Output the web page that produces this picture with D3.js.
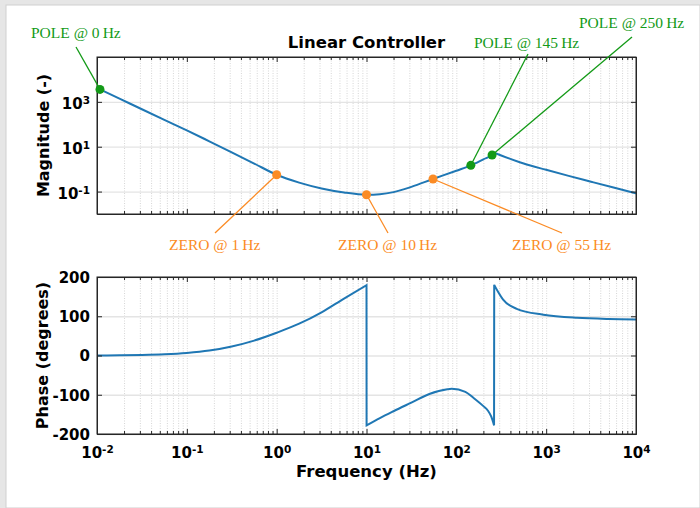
<!DOCTYPE html>
<html>
<head>
<meta charset="utf-8">
<script src="https://cdn.jsdelivr.net/npm/d3@7"></script>
<style>
  body { margin: 0; background: #e6e6e6; }
</style>
</head>
<body>
<svg id="chart" width="700" height="508"></svg>
<script>
// values
var magFreq = [0.01, 0.0178, 0.0316, 0.0562, 0.1, 0.178, 0.316, 0.562, 1, 1.78, 3.16, 5.62, 10, 14.1, 20, 31.6, 55, 100, 145, 200, 250, 264, 316, 562, 1000, 1780, 3160, 5620, 10000];
var magVal  = [4170, 1400, 468, 158, 53.7, 17.4, 5.6, 1.78, 0.56, 0.251, 0.138, 0.0912, 0.0724, 0.0765, 0.0945, 0.162, 0.363, 0.851, 1.48, 2.75, 4.27, 5.37, 4.07, 1.78, 0.933, 0.50, 0.275, 0.151, 0.0832];

var phaseFreq = [0.01, 0.0178, 0.0316, 0.0562, 0.1, 0.178, 0.316, 0.562, 1, 1.78, 3.16, 5.62, 10,
                 10.02, 14.1, 20, 31.6, 50, 79.4, 89, 126, 158, 200, 224, 245, 263,
                 264, 290, 330, 470, 930, 2200, 5000, 10000];
var phaseDeg  = [0, 0.6, 1.5, 3.2, 6.5, 12.5, 23, 38, 58, 81, 110, 145, 179,
                 -178, -159.5, -142, -120, -98, -86, -85, -92.5, -109.5, -129, -140, -156, -178,
                 180, 163, 143, 119, 104, 96, 93, 92];

var markFreq = [0.0108, 1, 10, 55, 145, 250];
var markMag  = [3600, 0.56, 0.0724, 0.363, 1.48, 4.27];
var markKind = ["pole", "zero", "zero", "zero", "pole", "pole"];
var markText = ["POLE @ 0\u2009Hz", "ZERO @ 1\u2009Hz", "ZERO @ 10\u2009Hz", "ZERO @ 55\u2009Hz", "POLE @ 145\u2009Hz", "POLE @ 250\u2009Hz"];

var freqTicks  = [1e-2, 1e-1, 1e0, 1e1, 1e2, 1e3, 1e4];
var magTicks   = [1e-1, 1e1, 1e3];
var phaseTicks = [-200, -100, 0, 100, 200];

// layout
var svg = d3.select("#chart");
var left = 97, right = 636;
var top1 = 57, bot1 = 214;
var top2 = 277, bot2 = 434;
var blue = "#1f77b4", green = "#139a17", orange = "#fb8b24";
var axisColor = "#262626";
var sans = "DejaVu Sans", serif = "Liberation Serif";

// label anchors: [textX, textY, lineStartX, lineStartY]
var labelPos = [
  [31, 38, 76, 47],
  [169, 250, 215, 233],
  [338, 250, 388, 233],
  [512, 250, 562, 233],
  [474, 48, 528, 54],
  [579, 28, 632, 37]
];

svg.append("rect").attr("x", 6).attr("y", 5).attr("width", 694).attr("height", 503)
   .attr("fill", "#fff").attr("stroke", "#cfcfcf");

var x = d3.scaleLog().domain([1e-2, 1e4]).range([left, right]);
var yMag = d3.scaleLog().domain([1e-2, 1e5]).range([bot1, top1]);
var yPh = d3.scaleLinear().domain([-200, 200]).range([bot2, top2]);

var minors = [];
for (var d = -2; d < 4; d++) {
  for (var k = 2; k < 10; k++) minors.push(k * Math.pow(10, d));
}

function grid(g, y0, y1, yScale, yTicks) {
  // vertical dotted grid
  g.append("g").attr("transform", "translate(0," + y1 + ")")
   .call(d3.axisBottom(x).tickValues(minors.concat(freqTicks)).tickSize(-(y1 - y0)).tickFormat(""))
   .call(function(s) {
     s.select(".domain").remove();
     s.selectAll("line").attr("stroke", "#cbcbcb").attr("stroke-width", 0.8).attr("stroke-dasharray", "1,1.5");
   });
  // horizontal grid
  g.append("g").attr("transform", "translate(" + left + ",0)")
   .call(d3.axisLeft(yScale).tickValues(yTicks).tickSize(-(right - left)).tickFormat(""))
   .call(function(s) {
     s.select(".domain").remove();
     s.selectAll("line").attr("stroke", "#e4e4e4").attr("stroke-width", 1.3);
   });
}

function frame(g, y0, y1, yScale, yTicks, yFmt) {
  var xb = g.append("g").attr("transform", "translate(0," + y1 + ")")
   .call(d3.axisBottom(x).tickValues(freqTicks).tickSize(-5).tickSizeOuter(0).tickFormat(""));
  g.append("g").attr("transform", "translate(0," + y1 + ")")
   .call(d3.axisBottom(x).tickValues(minors).tickSize(-3).tickSizeOuter(0).tickFormat(""));
  g.append("g").attr("transform", "translate(0," + y0 + ")")
   .call(d3.axisTop(x).tickValues(freqTicks).tickSize(-5).tickSizeOuter(0).tickFormat(""));
  g.append("g").attr("transform", "translate(0," + y0 + ")")
   .call(d3.axisTop(x).tickValues(minors).tickSize(-3).tickSizeOuter(0).tickFormat(""));
  var yl = g.append("g").attr("transform", "translate(" + left + ",0)")
   .call(d3.axisLeft(yScale).tickValues(yTicks).tickSize(-5).tickSizeOuter(0).tickPadding(7).tickFormat(yFmt));
  g.append("g").attr("transform", "translate(" + right + ",0)")
   .call(d3.axisRight(yScale).tickValues(yTicks).tickSize(-5).tickSizeOuter(0).tickFormat(""));

  g.selectAll(".domain").attr("stroke", axisColor);
  g.selectAll(".tick line").attr("stroke", axisColor);
  yl.selectAll("text").attr("font-size", 15).attr("font-weight", "bold").attr("fill", "#000")
    .attr("font-family", sans);
  g.append("rect").attr("x", left).attr("y", y0).attr("width", right - left).attr("height", y1 - y0)
   .attr("fill", "none").attr("stroke", axisColor).attr("stroke-width", 1);
  return { xb: xb, yl: yl };
}

function powLabel(sel) {
  sel.each(function(v) {
    var t = d3.select(this);
    var e = Math.round(Math.log10(v));
    t.text(null);
    t.append("tspan").text("10");
    t.append("tspan").attr("dy", "-0.5em").attr("font-size", 10.5).text(e);
  });
}

var g1 = svg.append("g");
var g2 = svg.append("g");
grid(g1, top1, bot1, yMag, magTicks);
grid(g2, top2, bot2, yPh, phaseTicks);

// magnitude curve, split at the peak so the corner stays sharp
var magPts = magFreq.map(function(f, i) { return [f, magVal[i]]; });
var peak = d3.maxIndex(magVal.map(function(v, i) { return magFreq[i] > 10 ? v : 0; }));
var magLine = d3.line().x(function(p) { return x(p[0]); }).y(function(p) { return yMag(p[1]); })
  .curve(d3.curveMonotoneX);
var magPath = magLine(magPts.slice(0, peak + 1)) + magLine(magPts.slice(peak)).replace(/^M/, "L");
g1.append("path").attr("d", magPath).attr("fill", "none").attr("stroke", blue).attr("stroke-width", 2);

// phase curve, split at the wraps
var phLine = d3.line().x(function(p) { return x(p[0]); }).y(function(p) { return yPh(p[1]); })
  .curve(d3.curveMonotoneX);
var segs = [[]];
phaseFreq.forEach(function(f, i) {
  if (i > 0 && Math.abs(phaseDeg[i] - phaseDeg[i - 1]) > 180) segs.push([]);
  segs[segs.length - 1].push([f, phaseDeg[i]]);
});
var phPath = segs.map(function(s, i) {
  var p = phLine(s);
  return i === 0 ? p : p.replace(/^M/, "L");
}).join("");
g2.append("path").attr("d", phPath).attr("fill", "none").attr("stroke", blue).attr("stroke-width", 2);

var f1 = frame(g1.append("g"), top1, bot1, yMag, magTicks, "");
f1.yl.selectAll(".tick text").attr("dy", "0.45em").call(powLabel);

var f2 = frame(g2.append("g"), top2, bot2, yPh, phaseTicks, function(v) { return String(v); });
f2.yl.selectAll(".tick text").attr("dy", "0.36em");
f2.xb.selectAll(".tick text").attr("y", 24).attr("dy", 0)
  .attr("font-size", 15).attr("font-weight", "bold").attr("fill", "#000").attr("font-family", sans)
  .call(powLabel);

// markers and labels
var marks = svg.append("g");
markFreq.forEach(function(f, i) {
  var c = markKind[i] === "pole" ? green : orange;
  var lp = labelPos[i];
  marks.append("line")
    .attr("x1", lp[2]).attr("y1", lp[3])
    .attr("x2", x(f)).attr("y2", yMag(markMag[i]))
    .attr("stroke", c).attr("stroke-width", 1.3);
  marks.append("text").attr("x", lp[0]).attr("y", lp[1])
    .style("font-family", serif).style("font-size", "15.5px")
    .attr("fill", c).text(markText[i]);
});
markFreq.forEach(function(f, i) {
  marks.append("circle").attr("cx", x(f)).attr("cy", yMag(markMag[i])).attr("r", 4.5)
    .attr("fill", markKind[i] === "pole" ? green : orange);
});

// titles
function boldText(t, size) {
  return svg.append("text").style("font-family", sans).style("font-size", size + "px")
    .style("font-weight", "bold").attr("text-anchor", "middle").text(t);
}
boldText("Linear Controller", 16.5).attr("x", (left + right) / 2).attr("y", 48);
boldText("Frequency (Hz)", 16.5).attr("x", (left + right) / 2).attr("y", 477);
boldText("Magnitude (-)", 16).attr("transform", "translate(49," + (top1 + bot1) / 2 + ") rotate(-90)");
boldText("Phase (degrees)", 16).attr("transform", "translate(48," + (top2 + bot2) / 2 + ") rotate(-90)");
</script>
</body>
</html>
